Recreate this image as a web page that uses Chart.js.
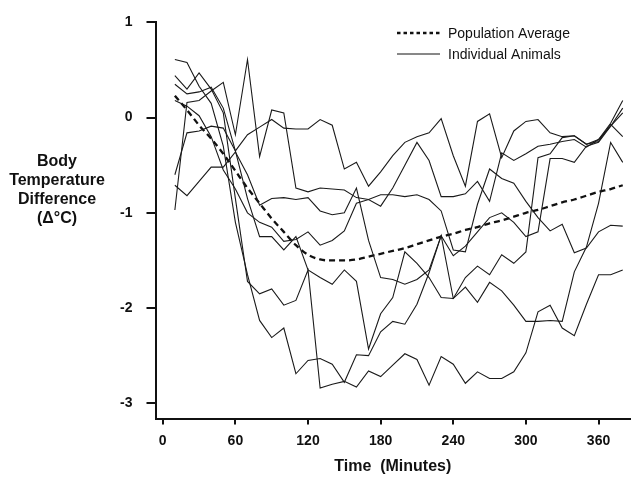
<!DOCTYPE html>
<html>
<head>
<meta charset="utf-8">
<script src="https://cdn.jsdelivr.net/npm/chart.js"></script>
<style>
  body { margin: 0; background: #fff; }
  #wrap { position: relative; width: 633px; height: 482px; }
</style>
</head>
<body>
<div id="wrap"><canvas id="chart" width="633" height="482"></canvas></div>
<script>
// minutes after start, one reading every 10 min
const times = [10, 20, 30, 40, 50, 60, 70, 80, 90, 100, 110, 120, 130, 140, 150, 160, 170, 180, 190,
  200, 210, 220, 230, 240, 250, 260, 270, 280, 290, 300, 310, 320, 330, 340, 350, 360, 370, 380];

// body temperature difference (deg C)
const animal1 = [0.61, 0.58, 0.33, 0.15, -0.3, -1.1, -1.65, -2.13, -2.31, -2.21, -2.69, -2.55, -2.53, -2.59, -2.78, -2.49, -2.5, -2.25, -2.14,
  -2.17, -1.96, -1.63, -1.24, -1.9, -1.78, -1.94, -1.73, -1.82, -1.97, -2.14, -2.14, -2.13, -2.14, -1.62, -1.36, -0.9, -0.26, -0.47];
const animal2 = [0.44, 0.3, 0.47, 0.3, 0.05, -0.85, -1.72, -1.85, -1.8, -1.97, -1.92, -1.6, -2.84, -2.8, -2.77, -2.83, -2.66, -2.72, -2.6,
  -2.48, -2.54, -2.81, -2.51, -2.59, -2.79, -2.67, -2.74, -2.74, -2.67, -2.47, -2.04, -1.97, -2.21, -2.29, -1.96, -1.65, -1.65, -1.6];
const animal3 = [0.35, 0.25, 0.27, 0.32, 0.1, -0.35, -0.85, -1.25, -1.25, -1.39, -1.25, -1.6, -1.68, -1.75, -1.6, -1.72, -2.43, -2.06, -1.89,
  -1.41, -1.53, -1.68, -1.89, -1.9, -1.68, -1.56, -1.65, -1.44, -1.53, -1.41, -0.42, -0.38, -0.21, -0.19, -0.28, -0.23, -0.06, 0.18];
const animal4 = [-0.97, 0.16, 0.18, 0.28, 0.37, -0.18, 0.61, -0.41, 0.08, 0.05, -0.74, -0.78, -0.74, -0.75, -0.76, -0.84, -0.86, -0.81, -0.81,
  -0.83, -0.81, -0.86, -0.98, -1.39, -1.41, -0.91, -0.54, -0.64, -0.69, -0.88, -1.05, -1.19, -1.12, -1.42, -1.37, -1.2, -1.13, -1.14];
const animal5 = [-0.6, -0.16, -0.14, -0.09, -0.11, -0.35, -0.18, -0.1, -0.02, -0.11, -0.12, -0.12, -0.02, -0.08, -0.54, -0.47, -0.72, -0.57, -0.4,
  -0.26, -0.2, -0.16, -0.01, -0.4, -0.72, -0.04, 0.04, -0.42, -0.14, -0.04, -0.02, -0.16, -0.2, -0.19, -0.28, -0.25, -0.07, -0.2];
const animal6 = [-0.71, -0.82, -0.67, -0.52, -0.52, -0.36, -0.6, -0.92, -0.85, -0.84, -0.86, -0.84, -0.98, -1.02, -1.0, -0.74, -1.29, -1.68, -1.7,
  -1.75, -1.7, -1.6, -1.24, -1.45, -1.35, -1.2, -1.05, -1.0, -1.1, -1.25, -1.2, -0.43, -0.43, -0.47, -0.3, -0.26, -0.09, 0.05];
const animal7 = [0.18, 0.12, 0.02, -0.2, -0.55, -0.75, -1.0, -1.1, -1.15, -1.3, -1.28, -1.2, -1.34, -1.29, -1.19, -0.9, -0.86, -0.93, -0.74,
  -0.5, -0.26, -0.45, -0.83, -0.83, -0.8, -0.67, -0.88, -0.37, -0.45, -0.38, -0.3, -0.28, -0.25, -0.23, -0.31, -0.23, -0.09, 0.1];
const populationAverage = [0.23, 0.08, -0.08, -0.22, -0.38, -0.56, -0.74, -0.9, -1.06, -1.2, -1.34, -1.44, -1.49, -1.5, -1.5, -1.49, -1.46, -1.43, -1.4,
  -1.37, -1.33, -1.29, -1.25, -1.22, -1.18, -1.15, -1.11, -1.08, -1.04, -1.0, -0.97, -0.93, -0.89, -0.86, -0.82, -0.78, -0.75, -0.71];

const xTicks = [0, 60, 120, 180, 240, 300, 360];
const yTicks = [1, 0, -1, -2, -3];
const yTitleLines = ["Body", "Temperature", "Difference", "(\u0394\u00b0C)"];

const FONT = "'Liberation Sans', Arial, Helvetica, sans-serif";
const INK = "#111";

const toPoints = (vals) => times.map((t, i) => ({ x: t, y: vals[i] }));

const animals = [animal1, animal2, animal3, animal4, animal5, animal6, animal7];
const datasets = animals.map((vals, i) => ({
  label: "Animal " + (i + 1),
  data: toPoints(vals),
  borderColor: "#1a1a1a",
  borderWidth: 1.1,
  pointRadius: 0,
  tension: 0,
  fill: false,
}));
datasets.push({
  label: "Population Average",
  data: toPoints(populationAverage),
  borderColor: INK,
  borderWidth: 2.3,
  borderDash: [6, 4],
  pointRadius: 0,
  cubicInterpolationMode: "monotone",
  fill: false,
});

// y title (horizontal, stacked) and the little legend in the top right
const extraText = {
  id: "extraText",
  afterDraw(chart) {
    const ctx = chart.ctx;
    ctx.save();
    ctx.fillStyle = INK;
    ctx.font = "bold 16px " + FONT;
    ctx.textAlign = "center";
    ctx.textBaseline = "middle";
    yTitleLines.forEach((t, i) => ctx.fillText(t, 57, 162 + i * 19));

    ctx.strokeStyle = INK;
    ctx.lineWidth = 2.5;
    ctx.setLineDash([3.5, 3]);
    ctx.beginPath(); ctx.moveTo(397, 33); ctx.lineTo(440, 33); ctx.stroke();
    ctx.setLineDash([]);
    ctx.lineWidth = 1;
    ctx.beginPath(); ctx.moveTo(397, 54); ctx.lineTo(440, 54); ctx.stroke();

    ctx.font = "14px " + FONT;
    ctx.textAlign = "left";
    ctx.fillText("Population Average", 448, 34);
    ctx.fillText("Individual Animals", 448, 55);
    ctx.restore();
  }
};

new Chart(document.getElementById("chart"), {
  type: "line",
  data: { datasets },
  plugins: [extraText],
  options: {
    responsive: false,
    animation: false,
    devicePixelRatio: 1,
    layout: { padding: { top: 13, right: 3, bottom: 0, left: 0 } },
    plugins: { legend: { display: false }, tooltip: { enabled: false } },
    scales: {
      x: {
        type: "linear",
        min: -6,
        max: 386,
        afterFit(s) { s.height = 63.5; },
        afterBuildTicks(s) { s.ticks = xTicks.map(v => ({ value: v })); },
        grid: { drawOnChartArea: false, drawTicks: true, tickLength: 6, color: INK, lineWidth: 2 },
        border: { display: true, color: INK, width: 2 },
        ticks: { color: INK, font: { family: FONT, size: 14, weight: "bold" }, padding: 8, maxRotation: 0 },
        title: {
          display: true, text: "Time  (Minutes)", color: INK,
          font: { family: FONT, size: 16, weight: "bold" }, padding: { top: 0, bottom: 6 }
        }
      },
      y: {
        type: "linear",
        min: -3.16,
        max: 1,
        afterFit(s) { s.width = 155.5; },
        afterBuildTicks(s) { s.ticks = yTicks.map(v => ({ value: v })); },
        grid: { drawOnChartArea: false, drawTicks: true, tickLength: 9, color: INK, lineWidth: 2 },
        border: { display: true, color: INK, width: 2 },
        ticks: { color: INK, font: { family: FONT, size: 14, weight: "bold" }, padding: 14 }
      }
    }
  }
});
</script>
</body>
</html>
